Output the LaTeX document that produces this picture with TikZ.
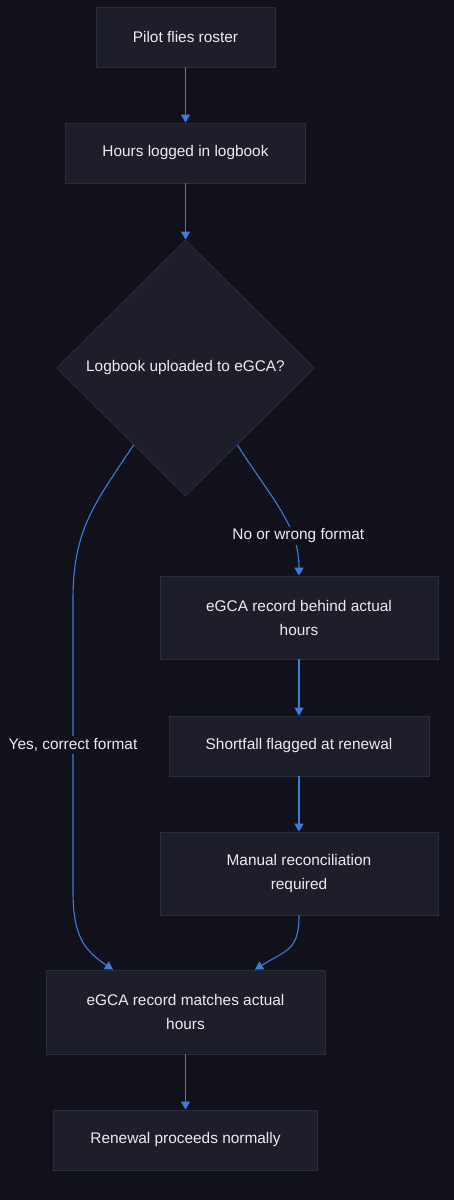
\documentclass[tikz,border=0pt]{standalone}
\usepackage{fontspec}
\setmainfont{Liberation Sans}
\usetikzlibrary{shapes.geometric,arrows.meta}
\definecolor{bgdark}{HTML}{10111A}
\definecolor{boxfill}{HTML}{1D1E2A}
\definecolor{boxline}{HTML}{2C2D3B}
\definecolor{flowblue}{HTML}{3D7BE0}
\definecolor{txtwhite}{HTML}{EDEDED}

\begin{document}
\begin{tikzpicture}[x=1pt,y=1pt,
    every node/.style={font=\fontsize{15.4pt}{24pt}\selectfont, text=txtwhite},
    stepbox/.style={fill=boxfill,draw=boxline,line width=0.8pt,minimum height=60pt,align=center},
    choice/.style={fill=boxfill,draw=boxline,line width=0.8pt,diamond,aspect=1,inner sep=0pt,minimum width=258pt,minimum height=256pt},
    flow/.style={draw=flowblue,line width=1.1pt,-{Triangle[length=8pt,width=9pt]}},
    lbl/.style={fill=bgdark,inner sep=2pt}]
            \fill[bgdark] (0,0) rectangle (454,-1200);
            \useasboundingbox (0,0) rectangle (454,-1200);

            \node[stepbox,minimum width=179pt] (pilot) at (185.5,-37) {Pilot flies roster};
            \node[stepbox,minimum width=240pt] (hours) [below of=pilot,node distance=116pt] {Hours logged in logbook};
            \node[choice] (upload) [below of=hours,node distance=215pt] {Logbook uploaded to eGCA?};
            \node[stepbox,minimum width=278pt,minimum height=83pt] (behind) at (299,-617.5) {eGCA record behind actual\\hours};
            \node[stepbox,minimum width=260pt] (shortfall) [below of=behind,node distance=128.5pt] {Shortfall flagged at renewal};
            \node[stepbox,minimum width=278pt,minimum height=83pt] (manual) [below of=shortfall,node distance=127.5pt] {Manual reconciliation\\required};
            \node[stepbox,minimum width=279pt,minimum height=84pt] (matches) at (185.5,-1012) {eGCA record matches actual\\hours};
            \node[stepbox,minimum width=264pt] (renewal) [below of=matches,node distance=128pt] {Renewal proceeds normally};

            \draw [flow] (pilot) -- (hours);
            \draw [flow] (hours) -- (upload);
            \draw [flow] (upload.304) .. controls +(35,-55) and +(0,50) .. node [lbl,pos=0.7,xshift=6pt] {No or wrong format} (behind.north);
            \draw [flow] (behind) -- (shortfall);
            \draw [flow] (shortfall) -- (manual);
            \draw [flow] (upload.236) .. controls +(-40,-60) and +(0,70) .. (73,-600)
                         -- node [lbl,pos=0.5] {Yes, correct format} (73,-890)
                         .. controls +(0,-45) and +(-30,20) .. ([xshift=-72.5pt]matches.north);
            \draw [flow] (manual.south) .. controls +(0,-35) and +(32,20) .. ([xshift=69.5pt]matches.north);
            \draw [flow] (matches) -- (renewal);
        \end{tikzpicture}
\end{document}
